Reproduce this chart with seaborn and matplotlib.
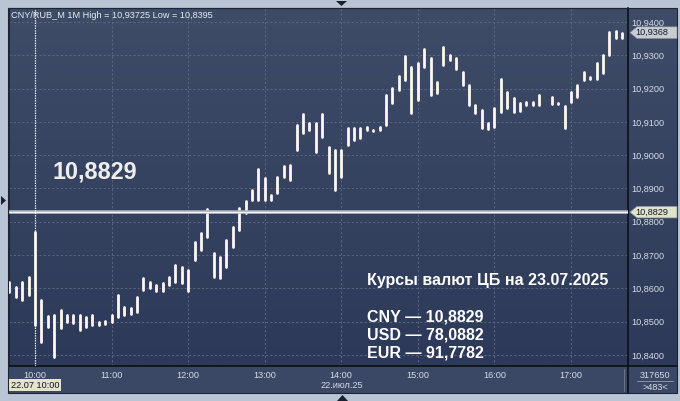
import matplotlib
matplotlib.use("Agg")
from matplotlib.patches import Polygon, Rectangle
from matplotlib.lines import Line2D
import matplotlib.pyplot as plt
import numpy as np
import pandas as pd
import seaborn as sns

# 5-minute buckets: low / high of each bucket
TIMES = [
    "09:40", "09:45", "09:50", "09:55", "10:00", "10:05", "10:10", "10:15", "10:20", "10:25",
    "10:30", "10:35", "10:40", "10:45", "10:50", "10:55", "11:00", "11:05", "11:10", "11:15",
    "11:20", "11:25", "11:30", "11:35", "11:40", "11:45", "11:50", "11:55", "12:00", "12:05",
    "12:10", "12:15", "12:20", "12:25", "12:30", "12:35", "12:40", "12:45", "12:50", "12:55",
    "13:00", "13:05", "13:10", "13:15", "13:20", "13:25", "13:30", "13:35", "13:40", "13:45",
    "13:50", "13:55", "14:00", "14:05", "14:10", "14:15", "14:20", "14:25", "14:30", "14:35",
    "14:40", "14:45", "14:50", "14:55", "15:00", "15:05", "15:10", "15:15", "15:20", "15:25",
    "15:30", "15:35", "15:40", "15:45", "15:50", "15:55", "16:00", "16:05", "16:10", "16:15",
    "16:20", "16:25", "16:30", "16:35", "16:40", "16:45", "16:50", "16:55", "17:00", "17:05",
    "17:10", "17:15", "17:20", "17:25", "17:30", "17:35", "17:40",
]
LOWS = [
    10.8590, 10.8575, 10.8566, 10.8580, 10.8491, 10.8440, 10.8485, 10.8395, 10.8482, 10.8500,
    10.8497, 10.8476, 10.8485, 10.8491, 10.8491, 10.8494, 10.8500, 10.8515, 10.8520, 10.8522,
    10.8530, 10.8596, 10.8602, 10.8593, 10.8593, 10.8611, 10.8620, 10.8617, 10.8593, 10.8686,
    10.8716, 10.8755, 10.8635, 10.8632, 10.8665, 10.8725, 10.8776, 10.8827, 10.8866, 10.8866,
    10.8866, 10.8866, 10.8887, 10.8935, 10.8926, 10.9016, 10.9067, 10.9076, 10.9010, 10.9055,
    10.8947, 10.8896, 10.8935, 10.9031, 10.9046, 10.9052, 10.9076, 10.9073, 10.9076, 10.9091,
    10.9157, 10.9196, 10.9226, 10.9127, 10.9166, 10.9265, 10.9181, 10.9187, 10.9271, 10.9286,
    10.9259, 10.9211, 10.9151, 10.9127, 10.9082, 10.9079, 10.9085, 10.9130, 10.9142, 10.9130,
    10.9133, 10.9151, 10.9151, 10.9151, np.nan, 10.9154, 10.9154, 10.9082, 10.9160, 10.9175,
    10.9226, 10.9229, 10.9229, 10.9247, 10.9301, 10.9352, 10.9352,
]
HIGHS = [
    10.8620, 10.8605, 10.8620, 10.8635, 10.8770, 10.8566, 10.8518, 10.8521, 10.8536, 10.8520,
    10.8520, 10.8520, 10.8515, 10.8520, 10.8500, 10.8503, 10.8520, 10.8580, 10.8545, 10.8542,
    10.8575, 10.8632, 10.8620, 10.8611, 10.8617, 10.8635, 10.8671, 10.8665, 10.8656, 10.8740,
    10.8767, 10.8839, 10.8707, 10.8695, 10.8746, 10.8785, 10.8840, 10.8863, 10.8896, 10.8959,
    10.8932, 10.8881, 10.8935, 10.8968, 10.8971, 10.9091, 10.9124, 10.9097, 10.9097, 10.9124,
    10.9025, 10.9016, 10.9016, 10.9082, 10.9082, 10.9082, 10.9085, 10.9076, 10.9085, 10.9181,
    10.9202, 10.9238, 10.9298, 10.9265, 10.9277, 10.9319, 10.9292, 10.9220, 10.9325, 10.9301,
    10.9292, 10.9250, 10.9211, 10.9151, 10.9136, 10.9097, 10.9142, 10.9229, 10.9190, 10.9172,
    10.9157, 10.9160, 10.9160, 10.9181, np.nan, 10.9175, 10.9157, 10.9148, 10.9190, 10.9211,
    10.9250, 10.9235, 10.9277, 10.9301, 10.9370, 10.9372, 10.9368,
]

CB_RATE = 10.8829
LAST_PRICE = 10.9368
Y_TICKS = [10.84, 10.85, 10.86, 10.87, 10.88, 10.89, 10.90, 10.91, 10.92, 10.93, 10.94]
HOUR_LABELS = ["10:00", "11:00", "12:00", "13:00", "14:00", "15:00", "16:00", "17:00"]
TITLE = "CNY/RUB_M 1M High = 10,93725 Low = 10,8395"
INFO_HEAD = "Курсы валют ЦБ на 23.07.2025"
INFO_LINES = ["CNY — 10,8829", "USD — 78,0882", "EUR — 91,7782"]

W, H = 680, 401


def fx(px):
    return px / W


def fy(py):
    return 1 - py / H


def minutes(hhmm):
    h, m = hhmm.split(":")
    return (int(h) - 10) * 60 + int(m)


def comma(v, nd=4):
    return f"{v:.{nd}f}".replace(".", ",")


# long table: two rows (low, high) per bucket -> one vertical stick per unit
rows = []
for i, (t, lo, hi) in enumerate(zip(TIMES, LOWS, HIGHS)):
    if np.isnan(lo):
        continue
    rows.append({"bar": i, "t": minutes(t), "price": lo})
    rows.append({"bar": i, "t": minutes(t), "price": hi})
df = pd.DataFrame(rows)

sns.set_style("dark")
plt.rcParams["font.family"] = ["Liberation Sans", "DejaVu Sans"]

fig = plt.figure(figsize=(6.8, 4.01), dpi=100)
fig.patch.set_facecolor("#b9c4d4")

# panel backgrounds (kept below the axes)
fig.add_artist(Rectangle((fx(8), fy(393)), fx(677) - fx(8), fy(366) - fy(393),
                         transform=fig.transFigure, facecolor="#3b4865",
                         edgecolor="none", zorder=-5))
bg = fig.add_axes([fx(8), fy(366), fx(677) - fx(8), fy(8) - fy(366)], zorder=-2)
top_c = np.array([63, 76, 104]) / 255
bot_c = np.array([44, 57, 88]) / 255
grad = np.linspace(0, 1, 256)[:, None, None]
img = top_c * (1 - grad) + bot_c * grad
bg.imshow(np.repeat(img, 2, axis=1), aspect="auto", extent=[0, 1, 0, 1])
bg.axis("off")

# px per hour ~76.6 ; 0.01 per 33.3 px
px_min = 76.57 / 60
x0 = (9 - 35) / px_min
x1 = (628 - 35) / px_min
y_lo = 10.94 - (366 - 22) / 3330
y_hi = 10.94 + (22 - 8) / 3330

ax = fig.add_axes([fx(9), fy(366), fx(628) - fx(9), fy(8) - fy(366)])
ax.set_facecolor("none")
ax.set_xlim(x0, x1)
ax.set_ylim(y_lo, y_hi)

ax.grid(True, color="#5b6883", linestyle=(0, (2.2, 2.2)), linewidth=0.7)
ax.set_axisbelow(True)

sns.lineplot(data=df, x="t", y="price", units="bar", estimator=None,
             color="#fff8f2", linewidth=2.0, ax=ax, legend=False, zorder=3)

ax.axhline(CB_RATE, color="#aeb3bd", linewidth=2.6, zorder=4)
ax.axhline(CB_RATE, color="#f6f6f6", linewidth=0.9, zorder=5)
ax.axvline(0, color="white", linestyle=(0, (1, 1)), linewidth=0.9, zorder=4)

ax.set_xticks([i * 60 for i in range(len(HOUR_LABELS))])
ax.set_xticklabels(HOUR_LABELS)
ax.set_yticks(Y_TICKS)
ax.set_yticklabels([comma(v) for v in Y_TICKS])
ax.yaxis.tick_right()
ax.tick_params(axis="y", length=0, pad=2.6, labelsize=6.6, colors="#d6dbe6")
ax.tick_params(axis="x", length=0, pad=3.5, labelsize=6.6, colors="#d6dbe6")
ax.set_xlabel("")
ax.set_ylabel("")
for side in ["left", "top"]:
    ax.spines[side].set_color("#1f2738")
    ax.spines[side].set_linewidth(0.8)
for side in ["right", "bottom"]:
    ax.spines[side].set_color("#0c0f16")
    ax.spines[side].set_linewidth(1.2)

# frame lines
fig.add_artist(Line2D([fx(628), fx(628)], [fy(366), fy(393)], color="#0c0f16",
                      linewidth=1.2, transform=fig.transFigure))
fig.add_artist(Line2D([fx(628), fx(677)], [fy(366), fy(366)], color="#0c0f16",
                      linewidth=1.2, transform=fig.transFigure))
fig.add_artist(Line2D([fx(624), fx(624)], [fy(369), fy(391)], color="#6a758c",
                      linewidth=0.7, transform=fig.transFigure))
fig.add_artist(Rectangle((fx(8), fy(393)), fx(677) - fx(8), fy(8) - fy(393),
                         transform=fig.transFigure, facecolor="none",
                         edgecolor="#1c2436", linewidth=0.8))

# texts
fig.text(fx(11), fy(18.5), TITLE, fontsize=6.6, color="#e6eaf2", va="baseline")
fig.text(fx(53), fy(178.5), comma(CB_RATE), fontsize=16.8, fontweight="bold",
         color="#eeeeee", va="baseline")
fig.text(fx(367), fy(284.5), INFO_HEAD, fontsize=11.5, fontweight="bold",
         color="white", va="baseline")
for k, line in enumerate(INFO_LINES):
    fig.text(fx(367), fy(321.7 + k * 18), line, fontsize=11.5, fontweight="bold",
             color="white", va="baseline")

fig.text(fx(342), fy(385.5), "22.июл.25", fontsize=6.6, color="#d6dbe6",
         ha="center", va="center")
fig.add_artist(Rectangle((fx(9), fy(391)), fx(61) - fx(9), fy(379) - fy(391),
                         transform=fig.transFigure, facecolor="#e4e4c8", edgecolor="none"))
fig.text(fx(35), fy(385), "22.07 10:00", fontsize=6.6, color="#101420",
         ha="center", va="center")

fig.text(fx(655), fy(375), "317650", fontsize=6.6, color="#d6dbe6", ha="center", va="center")
fig.add_artist(Line2D([fx(637), fx(673)], [fy(381), fy(381)], color="#8a93a6",
                      linewidth=0.7, transform=fig.transFigure))
fig.text(fx(655), fy(387), ">483<", fontsize=6.6, color="#d6dbe6", ha="center", va="center")


def price_y(p):
    return 22 + (10.94 - p) * 3330


def price_tag(price, face):
    c = price_y(price)
    pts = [(630, c), (637, c - 5.8), (677, c - 5.8), (677, c + 5.8), (637, c + 5.8)]
    fig.add_artist(Polygon([(fx(a), fy(b)) for a, b in pts], closed=True,
                           transform=fig.transFigure, facecolor=face,
                           edgecolor="#8c929c", linewidth=0.5))
    fig.text(fx(635), fy(c), comma(price), fontsize=6.6, color="#121a2c", va="center")


price_tag(LAST_PRICE, "#c9cdd3")
price_tag(CB_RATE, "#dfe3c9")

# small navigation triangles
for pts in ([(336, 1), (347, 1), (341.5, 6)],
            [(337, 401), (348, 401), (342.5, 395)],
            [(1, 196), (1, 205), (6, 200.5)]):
    fig.add_artist(Polygon([(fx(a), fy(b)) for a, b in pts], closed=True,
                           transform=fig.transFigure, facecolor="#1a2030",
                           edgecolor="none"))

fig.savefig("out.png", dpi=100, facecolor=fig.get_facecolor())
